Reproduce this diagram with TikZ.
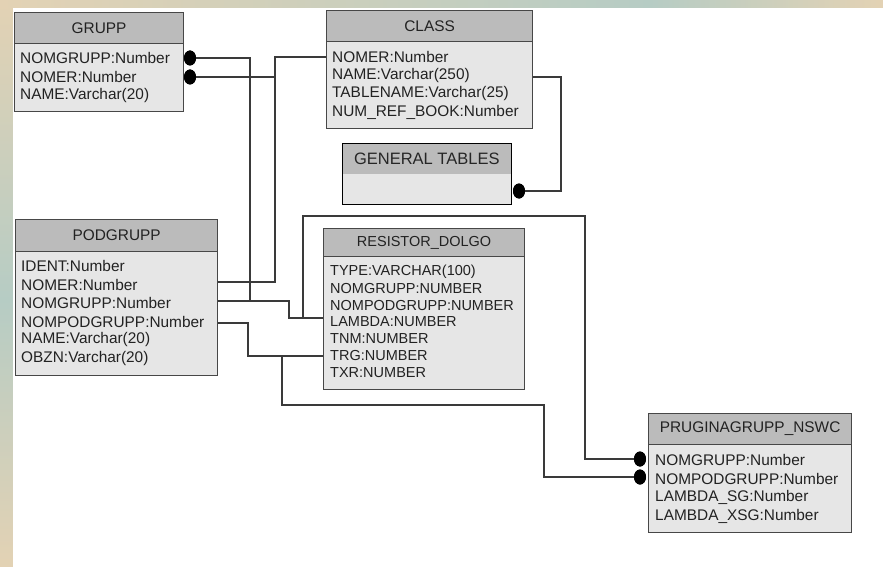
\documentclass[tikz,border=0pt]{standalone}
\usepackage{fontspec}
\setmainfont{Liberation Sans}
\usetikzlibrary{shapes.geometric}
\definecolor{hdrc}{HTML}{BBBBBB}
\definecolor{bodyc}{HTML}{E6E6E6}
\definecolor{boxc}{HTML}{474747}
\definecolor{txtc}{HTML}{222222}
\definecolor{wirec}{HTML}{3A3A3A}
\definecolor{bgtan}{HTML}{E3D2B4}
\definecolor{bgteal}{HTML}{B6CCC4}
\begin{document}
\begin{tikzpicture}[x=1pt,y=-1pt,
  tbl/.style={draw=boxc, line width=1.2pt, inner sep=0pt, anchor=north west},
  hdr/.style={tbl, fill=hdrc, text=txtc, font=\fontsize{15.4}{18}\selectfont},
  bdy/.style={tbl, fill=bodyc},
  row/.style={anchor=west, inner sep=0pt, text=txtc, font=\fontsize{15.4}{18}\selectfont},
  rrow/.style={anchor=west, inner sep=0pt, text=txtc, font=\fontsize{14.5}{18}\selectfont},
  wire/.style={draw=wirec, line width=1.3pt},
  dotn/.style={ellipse, fill=black, inner sep=0pt, minimum width=12pt, minimum height=15pt}]
\useasboundingbox (0,0) rectangle (883,567);
% background
\fill[bgtan] (0,0) rectangle (883,567);
\shade[top color=bgtan, bottom color=bgteal] (0,0) rectangle (14,300);
\shade[top color=bgteal, bottom color=bgtan] (0,300) rectangle (14,567);
\shade[left color=bgtan, right color=bgteal] (0,0) rectangle (650,9);
\shade[left color=bgteal, right color=bgtan] (650,0) rectangle (883,9);
\fill[white] (13,8) rectangle (883,567);

% junctions and ports
\coordinate (pgNomer) at (217,282);
\coordinate (pgNomgr) at (217,301);
\coordinate (pgNompod) at (217,323);
\coordinate (clNomer) at (326,57);
\coordinate (clRight) at (532,77);
\coordinate (rsLambda) at (323,318);
\coordinate (rsTrg) at (323,356);
\coordinate (jA) at (250,301);
\coordinate (jB) at (275,77);
\coordinate (jC) at (303,318);
\coordinate (jD) at (282,356);

\node[dotn] (dG1) at (190,58) {};
\node[dotn] (dG2) at (190,77) {};
\node[dotn] (dGen) at (519,191) {};
\node[dotn] (dP1) at (640,459) {};
\node[dotn] (dP2) at (640,477) {};

% connectors
\draw[wire] (dG1) -- (250,58) -- (jA);
\draw[wire] (pgNomgr) -- (289,301) -- (289,318) -- (rsLambda);
\draw[wire] (dG2) -- (jB);
\draw[wire] (clNomer) -- (275,57) -- (275,282) -- (pgNomer);
\draw[wire] (clRight) -- (561,77) -- (561,191) -- (dGen);
\draw[wire] (jC) -- (303,216) -- (585,216) -- (585,459) -- (dP1);
\draw[wire] (pgNompod) -- (248,323) -- (248,356) -- (rsTrg);
\draw[wire] (jD) -- (282,405) -- (544,405) -- (544,477) -- (dP2);

% GRUPP
\node[bdy, minimum width=169pt, minimum height=68pt] (gruppB) at (14,43) {};
\node[hdr, minimum width=169pt, minimum height=31pt] (grupp) at (14,12) {GRUPP};
\node[row] (g1) at (20,58) {NOMGRUPP:Number};
\node[row] (g2) at (20,77) {NOMER:Number};
\node[row] (g3) at (20,96) {NAME:Varchar(20)};

% CLASS
\node[bdy, minimum width=206pt, minimum height=87pt] (classB) at (326,41) {};
\node[hdr, minimum width=206pt, minimum height=31pt] (class) at (326,10) {CLASS};
\node[row] (c1) at (332,57) {NOMER:Number};
\node[row] (c2) at (332,75.5) {NAME:Varchar(250)};
\node[row] (c3) at (332,94) {TABLENAME:Varchar(25)};
\node[row] (c4) at (332,112) {NUM\_REF\_BOOK:Number};

% GENERAL TABLES
\node[bdy, draw=black, minimum width=169pt, minimum height=61pt] (gen) at (342,143) {};
\node[anchor=north west, fill=hdrc, inner sep=0pt, minimum width=168pt, minimum height=30pt,
      text=black!85, font=\fontsize{16.5}{18}\selectfont] (genH) at (342.6,143.6) {GENERAL TABLES};

% PODGRUPP
\node[bdy, minimum width=202pt, minimum height=124pt] (podB) at (15,251) {};
\node[hdr, minimum width=202pt, minimum height=32pt] (pod) at (15,219) {PODGRUPP};
\node[row] (p1) at (21,266) {IDENT:Number};
\node[row] (p2) at (21,284.5) {NOMER:Number};
\node[row] (p3) at (21,303) {NOMGRUPP:Number};
\node[row] (p4) at (21,321.5) {NOMPODGRUPP:Number};
\node[row] (p5) at (21,340) {NAME:Varchar(20)};
\node[row] (p6) at (21,358.5) {OBZN:Varchar(20)};

% RESISTOR_DOLGO
\node[bdy, minimum width=201pt, minimum height=133pt] (resB) at (323,256) {};
\node[hdr, minimum width=201pt, minimum height=28pt, font=\fontsize{14.5}{18}\selectfont] (res) at (323,228) {RESISTOR\_DOLGO};
\node[rrow] (r1) at (330,272) {TYPE:VARCHAR(100)};
\node[rrow] (r2) at (330,288.8) {NOMGRUPP:NUMBER};
\node[rrow] (r3) at (330,305.5) {NOMPODGRUPP:NUMBER};
\node[rrow] (r4) at (330,322) {LAMBDA:NUMBER};
\node[rrow] (r5) at (330,339) {TNM:NUMBER};
\node[rrow] (r6) at (330,356) {TRG:NUMBER};
\node[rrow] (r7) at (330,373) {TXR:NUMBER};

% PRUGINAGRUPP_NSWC
\node[bdy, minimum width=203pt, minimum height=88pt] (prB) at (648,444) {};
\node[hdr, minimum width=203pt, minimum height=31pt] (pr) at (648,413) {PRUGINAGRUPP\_NSWC};
\node[row] (q1) at (655,460) {NOMGRUPP:Number};
\node[row] (q2) at (655,478.5) {NOMPODGRUPP:Number};
\node[row] (q3) at (655,497) {LAMBDA\_SG:Number};
\node[row] (q4) at (655,516) {LAMBDA\_XSG:Number};

% dots on top
\node[dotn] at (dG1) {};
\node[dotn] at (dG2) {};
\node[dotn] at (dGen) {};
\node[dotn] at (dP1) {};
\node[dotn] at (dP2) {};
\end{tikzpicture}
\end{document}
